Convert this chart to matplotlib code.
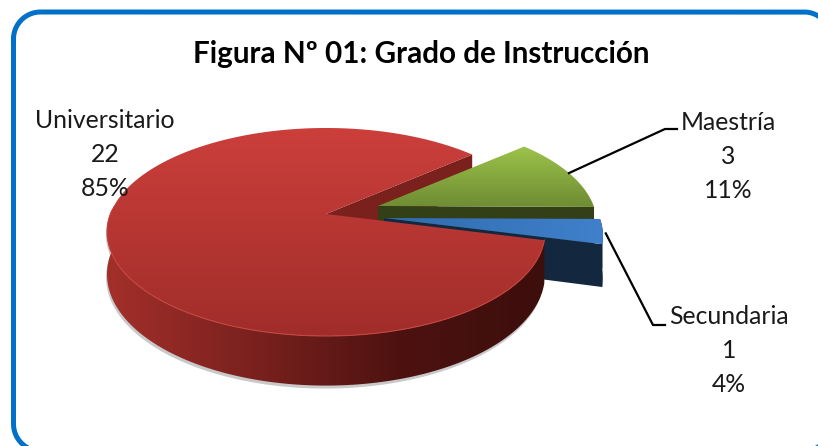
import numpy as np
import matplotlib
matplotlib.use("Agg")
import matplotlib.pyplot as plt
from matplotlib.colors import LinearSegmentedColormap
from matplotlib.patches import Polygon

title = "Figura Nº 01: Grado de Instrucción"
categories = ["Universitario", "Secundaria", "Maestría"]
values = [22, 1, 3]
percents = ["85%", "4%", "11%"]

plt.rcParams["font.family"] = ["Lato", "DejaVu Sans"]

# projection of the tilted pie, in image pixels
RX, RY, KP, DEPTH = 215.7, 100.9, 0.173, 41
START = 41.0
CENTERS = {"Universitario": (326, 214), "Secundaria": (384, 218), "Maestría": (378, 206)}


def proj(theta, center, drop=0.0):
    t = np.radians(theta)
    w = 1 + KP * np.sin(t)
    x = center[0] + RX * np.cos(t) / w
    y = center[1] - RY * np.sin(t) / w + drop * DEPTH / w
    return np.column_stack([np.atleast_1d(x), np.atleast_1d(y)])


def shade(ax, pts, colors, vertical=True, zorder=2):
    # fill a polygon with a linear gradient
    x0, x1 = pts[:, 0].min(), pts[:, 0].max()
    y0, y1 = pts[:, 1].min(), pts[:, 1].max()
    cmap = LinearSegmentedColormap.from_list("g", colors)
    grad = np.linspace(0, 1, 256)
    grad = grad[:, None] if vertical else grad[None, :]
    im = ax.imshow(grad, extent=(x0, x1, y1, y0), origin="upper", cmap=cmap,
                   aspect="auto", zorder=zorder, interpolation="bilinear")
    poly = Polygon(pts, closed=True, transform=ax.transData, fc="none", ec="none")
    ax.add_patch(poly)
    im.set_clip_path(poly)


def arc(a, b, center, drop=0.0):
    return proj(np.linspace(a, b, 160), center, drop)


def side(a, b, center):
    return np.vstack([arc(a, b, center), arc(b, a, center, 1.0)])


def cut(theta, center):
    return np.vstack([[center], proj(theta, center), proj(theta, center, 1.0),
                      [[center[0], center[1] + DEPTH]]])


def wedge(a, b, center):
    return np.vstack([[center], arc(a, b, center)])


def rounded_frame(x0, y0, x1, y1, r):
    # corner arcs joined by straight runs, y pointing down
    corners = [(x0 + r, y0 + r, 180, 270), (x1 - r, y0 + r, 270, 360),
               (x1 - r, y1 - r, 0, 90), (x0 + r, y1 - r, 90, 180)]
    xs, ys = [], []
    for cx, cy, a, b in corners:
        t = np.radians(np.linspace(a, b, 40))
        xs.extend(cx + r * np.cos(t))
        ys.extend(cy + r * np.sin(t))
    return xs + xs[:1], ys + ys[:1]


fig = plt.figure(figsize=(8.18, 4.46), dpi=100)
ax = fig.add_axes([0, 0, 1, 1])

# slice angles come from the counts
total = sum(values)
sweeps = [v / total * 360 for v in values]
red_a, red_b = START, START + sweeps[0]
blue_a, blue_b = red_b, red_b + sweeps[1]
green_a, green_b = blue_b, blue_b + sweeps[2]
c_red, c_blue, c_green = (CENTERS[k] for k in categories)

# thin shadow under the front of the solid
shadow = side(178, 340, (c_red[0] - 1, c_red[1] + 3))
ax.add_patch(Polygon(shadow, fc="#c9c9c9", ec="none", zorder=1))
blue_shadow = side(blue_a, blue_b, (c_blue[0] - 1, c_blue[1] + 2))
ax.add_patch(Polygon(blue_shadow, fc="#d4d4d4", ec="none", zorder=1))

# red wall behind the green slice
ax.add_patch(Polygon(cut(red_a, c_red), fc="#7a211e", ec="none", zorder=2))

# green slice
ax.add_patch(Polygon(cut(green_a, c_green), fc="#333f16", ec="none", zorder=3))
shade(ax, wedge(green_a, green_b, c_green), ["#9cc34a", "#6f8c33"], zorder=4)

# blue slice
ax.add_patch(Polygon(side(blue_a, blue_b, c_blue), fc="#13283f", ec="none", zorder=5))
ax.add_patch(Polygon(cut(blue_a, c_blue), fc="#13283f", ec="none", zorder=5))
shade(ax, wedge(blue_a, blue_b, c_blue), ["#2f6bae", "#4080cc"], vertical=False, zorder=6)

# red slice
shade(ax, side(175, red_b, c_red), ["#a32f2a", "#7a211e", "#4d1210", "#3c0e0c"],
      vertical=False, zorder=7)
shade(ax, wedge(red_a, red_b, c_red), ["#cc3f3b", "#a02d2a"], zorder=8)
rim = arc(178, red_b, c_red)
ax.plot(rim[:, 0], rim[:, 1], color="#c4453f", lw=0.8, zorder=8.5)

# leader lines start on the slice rims
green_mid = proj((green_a + green_b) / 2, c_green)[0]
blue_mid = proj((blue_a + blue_b) / 2, c_blue)[0]
ax.plot([green_mid[0], 665, 677], [green_mid[1], 129, 129], color="black", lw=1.6, zorder=9)
ax.plot([blue_mid[0] + 3, 653, 665], [blue_mid[1] + 2, 325, 325], color="black", lw=1.6, zorder=9)

# data labels
label_pos = [(105, 121), (729, 317), (728, 123)]
for name, val, pct, (lx, ly) in zip(categories, values, percents, label_pos):
    for k, line in enumerate([name, str(val), pct]):
        ax.text(lx, ly + k * 33.5, line, ha="center", va="center", fontsize=17.8,
                color="#1a1a1a", zorder=10)

ax.text(421, 54, title, ha="center", va="center", fontsize=21.3, fontweight="bold",
        color="black", zorder=10)

# rounded blue frame runs off the right and bottom of the image
fx, fy = rounded_frame(13.5, 12, 831, 451, 27)
ax.plot(fx, fy, color="#0070c8", lw=3.6, zorder=11)

ax.set_xlim(0, 818)
ax.set_ylim(446, 0)
ax.axis("off")
fig.savefig("out.png", dpi=100, facecolor="white")
